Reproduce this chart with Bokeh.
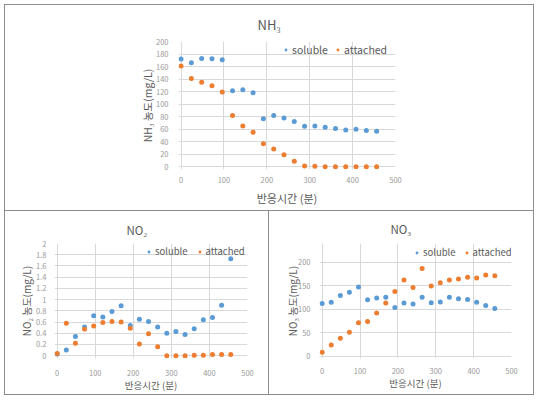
from bokeh.plotting import figure
from bokeh.layouts import column, row
from bokeh.models import Range1d, FixedTicker, Legend, LegendItem, CustomJSTickFormatter
from bokeh.embed import file_html
from bokeh.resources import INLINE

# ---- data ----
time_min = [0, 24, 48, 72, 96, 120, 144, 168, 192, 216, 240, 264, 288, 312, 336, 360, 384, 408, 432, 456]

nh3_soluble = [172, 166, 173, 172.5, 171, 121.5, 123, 118.5, 77, 82, 78, 72.5, 65, 65.5, 63.5, 61.5, 59, 60, 58, 57]
nh3_attached = [161, 141, 135, 129.5, 119.5, 82, 65.5, 55.5, 37, 28.5, 19.5, 9, 1.5, 1, 0.5, 0.5, 0.3, 0.5, 0.5, 0.5]

no2_soluble = [0.03, 0.10, 0.34, 0.51, 0.71, 0.69, 0.79, 0.89, 0.54, 0.65, 0.61, 0.51, 0.40, 0.43, 0.38, 0.48, 0.64, 0.68, 0.90, 1.73]
no2_attached = [0.04, 0.58, 0.22, 0.47, 0.53, 0.59, 0.61, 0.60, 0.49, 0.21, 0.39, 0.16, 0.0, 0.0, 0.0, 0.01, 0.01, 0.02, 0.02, 0.02]

no3_soluble = [112, 115, 129, 136, 147.5, 120, 124, 125.5, 103.5, 113, 111, 125.5, 114, 115.5, 125.5, 122.5, 120.5, 115, 108, 101.5]
no3_attached = [8.5, 23.5, 38, 51, 71, 74, 92, 113, 137.5, 162.5, 146, 187, 149.5, 156.5, 162.5, 164.5, 168, 166.5, 173, 171.5]

x_ticks = [0, 100, 200, 300, 400, 500]
nh3_ticks = [0, 20, 40, 60, 80, 100, 120, 140, 160, 180, 200]
no2_ticks = [0, 0.2, 0.4, 0.6, 0.8, 1.0, 1.2, 1.4, 1.6, 1.8, 2.0]
no3_ticks = [0, 50, 100, 150, 200]

series_names = ["soluble", "attached"]
x_label = "반응시간 (분)"

FONT = "Noto Sans CJK KR"
BLUE = "#5B9BD5"
ORANGE = "#ED7D31"
TXT = "#595959"
TICK = "#999999"
GRID = "#d9d9d9"
FRAME = "#8c8c8c"


def make_chart(title, ylabel, sol, att, xr, yr, yticks, size, borders, fonts,
               title_offset, title_standoff, x_std, xl_std, y_std, yl_std,
               leg_loc, leg_spacing, styles):
    width, height = size
    left, right, top, bottom = borders
    f_title, f_leg, f_xl, f_yl = fonts
    p = figure(width=width, height=height, output_backend="svg", toolbar_location=None,
               x_range=Range1d(*xr), y_range=Range1d(*yr),
               min_border_left=left, min_border_right=right,
               min_border_top=top, min_border_bottom=bottom,
               outline_line_color=None, styles=styles)
    p.title.text = title
    p.title.align = "left"
    p.title.offset = title_offset
    p.title.standoff = title_standoff
    p.title.text_font = FONT
    p.title.text_font_size = f_title
    p.title.text_font_style = "normal"
    p.title.text_color = TXT

    p.xaxis.ticker = FixedTicker(ticks=x_ticks)
    p.yaxis.ticker = FixedTicker(ticks=yticks)
    p.yaxis.formatter = CustomJSTickFormatter(code="return String(Math.round(tick*10)/10)")
    for ax in (p.xaxis[0], p.yaxis[0]):
        ax.axis_line_color = None
        ax.major_tick_line_color = None
        ax.minor_tick_line_color = None
        ax.major_label_text_font = FONT
        ax.major_label_text_font_size = "7.5px"
        ax.major_label_text_color = TICK
        ax.axis_label_text_font = FONT
        ax.axis_label_text_font_style = "normal"
        ax.axis_label_text_color = TXT
    p.xaxis.axis_label = x_label
    p.xaxis.axis_label_text_font_size = f_xl
    p.xaxis.major_label_standoff = x_std
    p.xaxis.axis_label_standoff = xl_std
    p.yaxis.axis_label = ylabel
    p.yaxis.axis_label_text_font_size = f_yl
    p.yaxis.major_label_standoff = y_std
    p.yaxis.axis_label_standoff = yl_std

    p.xgrid.ticker = FixedTicker(ticks=x_ticks)
    p.ygrid.ticker = FixedTicker(ticks=yticks)
    p.grid.grid_line_color = GRID
    p.grid.grid_line_width = 1

    r1 = p.scatter(time_min, sol, size=5, color=BLUE, line_color=None)
    r2 = p.scatter(time_min, att, size=5, color=ORANGE, line_color=None)
    leg = Legend(items=[LegendItem(label=series_names[0], renderers=[r1]),
                        LegendItem(label=series_names[1], renderers=[r2])],
                 orientation="horizontal", location=leg_loc,
                 border_line_color=None, background_fill_alpha=0,
                 label_text_font=FONT, label_text_font_size=f_leg, label_text_color=TXT,
                 glyph_width=7, glyph_height=7, label_standoff=3, spacing=leg_spacing,
                 padding=0, margin=0)
    p.add_layout(leg)
    return p


p1 = make_chart("NH₃", "NH₃ 농도(mg/L)", nh3_soluble, nh3_attached,
                (-6, 500), (-4, 200), nh3_ticks, (528, 206), (173, 138, 36, 42),
                ("13px", "10.5px", "11px", "10.5px"),
                79, 15, 1, 4, 4, -2, (104, 112), 6,
                {"border-bottom": "1px solid " + FRAME})
p2 = make_chart("NO₂", "NO₂ 농도(mg/L)", no2_soluble, no2_attached,
                (-7, 500), (-0.05, 2), no2_ticks, (264, 183), (49, 22, 32, 36),
                ("11.5px", "9.5px", "9.5px", "10px"),
                72, 11, 5, -1, 2, -1, (91, 100), 8,
                {"border-right": "1px solid " + FRAME})
p3 = make_chart("NO₃", "NO₃ 농도(mg/L)", no3_soluble, no3_attached,
                (-7, 500), (-5, 240), no3_ticks, (263, 183), (50, 21, 30, 36),
                ("11.5px", "9.5px", "9.5px", "10px"),
                71, 13, 3, -1, 3, -5, (94, 99), 7,
                {})

layout = column(p1, row(p2, p3),
                styles={"border": "1px solid " + FRAME, "margin-left": "4px", "margin-top": "4px"})

open("out.html", "w").write(file_html(layout, INLINE))
